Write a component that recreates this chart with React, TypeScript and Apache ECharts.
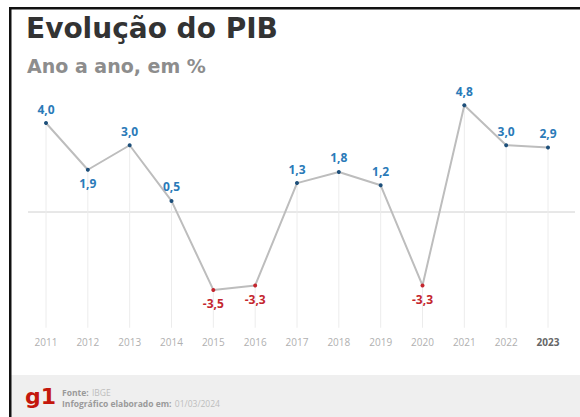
import React, { useEffect, useRef } from "react";
import * as echarts from "echarts";

const years = ["2011", "2012", "2013", "2014", "2015", "2016", "2017", "2018", "2019", "2020", "2021", "2022", "2023"];
const gdp = [4.0, 1.9, 3.0, 0.5, -3.5, -3.3, 1.3, 1.8, 1.2, -3.3, 4.8, 3.0, 2.9];
const labelBelow = ["2012", "2015", "2016", "2020"];
const titleText = "Evolução do PIB";
const subtitleText = "Ano a ano, em %";

const BLUE = "#2a7ab8";
const RED = "#c4262e";

export default function App() {
  const ref = useRef<HTMLDivElement>(null);
  useEffect(() => {
    document.body.style.margin = "0";
    const chart = echarts.init(ref.current!, undefined, { renderer: "svg" });
    const fmt = (v: number) => v.toFixed(1).replace(".", ",");
    const baseGraphic: any[] = [
      { type: "rect", shape: { x: 11, y: 375, width: 569, height: 42 }, style: { fill: "#efefef" }, z: -1 },
      { type: "rect", shape: { x: 9, y: 7, width: 571, height: 2.5 }, style: { fill: "#111" } },
      { type: "rect", shape: { x: 9, y: 7, width: 2.5, height: 410 }, style: { fill: "#111" } },
      {
        type: "text",
        left: 26,
        top: 14,
        style: { text: titleText, fontFamily: "DejaVu Sans", fontWeight: "bold", fontSize: 28, fill: "#333333" },
      },
      {
        type: "text",
        left: 27,
        top: 56,
        style: { text: subtitleText, fontFamily: "DejaVu Sans", fontWeight: "bold", fontSize: 19, fill: "#8d8d8d" },
      },
      {
        type: "text",
        left: 25,
        top: 385,
        style: { text: "g1", fontFamily: "DejaVu Sans", fontWeight: "bold", fontSize: 22, fill: "#c4170c" },
      },
      {
        type: "text",
        left: 62,
        top: 386,
        style: {
          text: "{b|Fonte:} {l|IBGE}\n{b|Infográfico elaborado em:} {l|01/03/2024}",
          lineHeight: 11,
          rich: {
            b: { fontFamily: "Open Sans", fontWeight: "bold", fontSize: 8.5, fill: "#9a9a9a", lineHeight: 11 },
            l: { fontFamily: "Open Sans", fontSize: 8.5, fill: "#bdbdbd", lineHeight: 11 },
          },
        },
      },
    ];
    const option: any = {
      animation: false,
      backgroundColor: "#ffffff",
      grid: { left: 46, right: 32, top: 100.75, height: 227, containLabel: false },
      xAxis: {
        type: "category",
        data: years,
        boundaryGap: false,
        axisLine: { show: false },
        axisTick: { show: false },
        splitLine: { show: false },
        axisLabel: {
          interval: 0,
          margin: 9,
          fontFamily: "Open Sans",
          fontSize: 10,
          color: "#b0b0b0",
          formatter: (v: string) => (v === "2023" ? "{b|" + v + "}" : v),
          rich: { b: { fontFamily: "Open Sans", fontSize: 10, fontWeight: "bold", color: "#666" } },
        },
      },
      yAxis: {
        type: "value",
        min: -5.2,
        max: 5,
        show: false,
        splitLine: { show: false },
      },
      series: [
        {
          type: "custom",
          silent: true,
          z: 1,
          data: gdp.map((v, i) => [i, v]),
          renderItem: (params: any, api: any) => {
            const p = api.coord([api.value(0), api.value(1)]);
            const b = api.coord([api.value(0), -5.2]);
            return {
              type: "line",
              shape: { x1: p[0], y1: p[1], x2: b[0], y2: b[1] },
              style: { stroke: "#ececec", lineWidth: 1 },
            };
          },
        },
        {
          type: "line",
          z: 3,
          data: gdp.map((v, i) => ({
            value: v,
            itemStyle: { color: v < 0 ? RED : "#1d4f7a" },
            label: {
              position: labelBelow.includes(years[i]) ? "bottom" : "top",
              color: v < 0 ? RED : BLUE,
            },
          })),
          symbol: "circle",
          symbolSize: 4,
          lineStyle: { color: "#bdbdbd", width: 2 },
          label: {
            show: true,
            distance: 6,
            fontFamily: "Open Sans",
            fontWeight: "bold",
            fontSize: 12,
            formatter: (p: any) => fmt(p.value),
          },
        },
      ],
      graphic: baseGraphic,
    };
    chart.setOption(option);
    const y0 = chart.convertToPixel({ yAxisIndex: 0 }, 0) as number;
    chart.setOption({
      graphic: [
        ...baseGraphic,
        { type: "line", shape: { x1: 28, y1: y0, x2: 575, y2: y0 }, style: { stroke: "#d0d0d0", lineWidth: 1 }, z: 0 },
      ],
    });
    return () => chart.dispose();
  }, []);
  return <div ref={ref} style={{ width: 580, height: 417, position: "absolute", left: 0, top: 0 }} />;
}
